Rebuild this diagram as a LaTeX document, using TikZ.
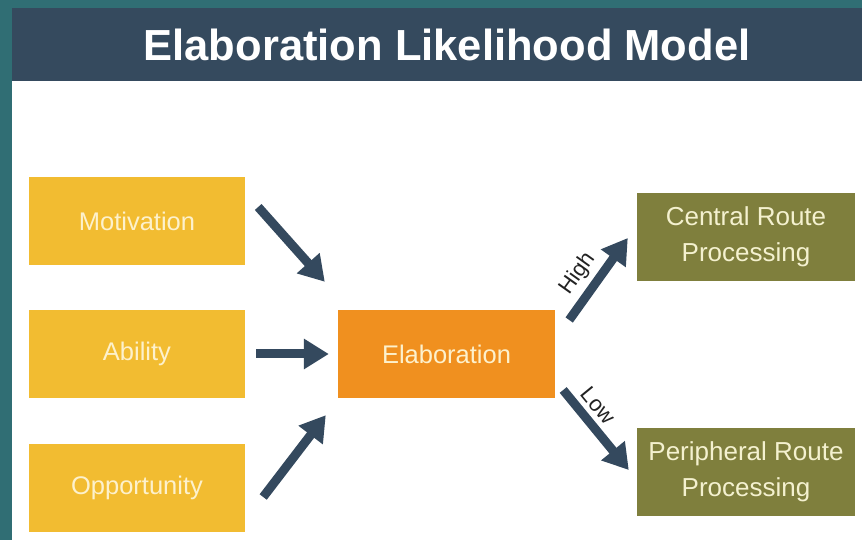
\documentclass[tikz,border=0pt]{standalone}
\usepackage{fontspec}
\setmainfont{Liberation Sans}
\usetikzlibrary{arrows.meta,positioning,calc}
\definecolor{ELTeal}{HTML}{306E74}
\definecolor{ELBar}{HTML}{354A5E}
\definecolor{ELInk}{HTML}{34495E}
\definecolor{ELYellow}{HTML}{F2BC31}
\definecolor{ELOrange}{HTML}{F0901F}
\definecolor{ELOlive}{HTML}{7F7F3D}
\definecolor{ELCream}{HTML}{FDF1CC}
\definecolor{ELPale}{HTML}{F4F1CF}
\definecolor{ELText}{HTML}{222222}
\tikzset{
  flow/.style={-{Triangle[length=25pt,width=29pt]},ELInk,line width=9pt},
  factor/.style={fill=ELYellow,minimum width=216pt,minimum height=88pt,
                 text=ELCream,font=\fontsize{25.5}{30}\selectfont,align=center,inner sep=0pt},
  hub/.style={factor,fill=ELOrange,minimum width=217pt},
  route/.style={factor,fill=ELOlive,minimum width=218pt,text=ELPale,
                font=\fontsize{26}{30}\selectfont},
  arrowlabel/.style={text=ELText,font=\fontsize{22}{24}\selectfont,inner sep=2pt},
  banner/.style={fill=ELBar,minimum width=850pt,minimum height=73pt,inner sep=0pt},
  headline/.style={text=white,font=\fontsize{43.5}{50}\selectfont\bfseries,inner sep=0pt},
}
\begin{document}
\begin{tikzpicture}[x=1pt,y=1pt]
    % frame: teal edge on the left and top, white page
    \useasboundingbox (0,0) rectangle (862,540);
    \fill[ELTeal] (0,0) rectangle (862,540);
    \fill[white] (12,0) rectangle (862,532);
    \node[banner] (bar) at (437,495.5) {};
    \node[headline] (title) at (447,495.5) {Elaboration Likelihood Model};

    % the three factors
    \node[factor] (mot) at (137,319) {Motivation};
    \node[factor] (abil) at (137,186) {Ability};
    \node[factor] (opp) at (137,52) {Opportunity};

    \node[hub] (elab) at (446.5,186) {Elaboration};

    % the two routes
    \node[route] (central) at (746,303) {Central Route\\[6pt]Processing};
    \node[route] (periph) at (746,68) {Peripheral Route\\[6pt]Processing};

    \draw[flow] ($(mot.east)+(13,14)$) -- ($(elab.north west)+(-13,28)$);
    \draw[flow] ($(abil.east)+(11,0)$) -- ($(elab.west)+(-9,0)$);
    \draw[flow] ($(opp.east)+(18,-9)$) -- ($(elab.south west)+(-12,-17)$);

    \draw[flow] ($(elab.east)+(14,34)$) -- node[arrowlabel,sloped,above=3pt,pos=0.42] {High}
      ($(central.west)+(-9,-1)$);
    \draw[flow] ($(elab.east)+(8,-36)$) -- node[arrowlabel,sloped,above=3pt,pos=0.33] {Low}
      ($(periph.west)+(-8,2)$);
  \end{tikzpicture}
\end{document}
